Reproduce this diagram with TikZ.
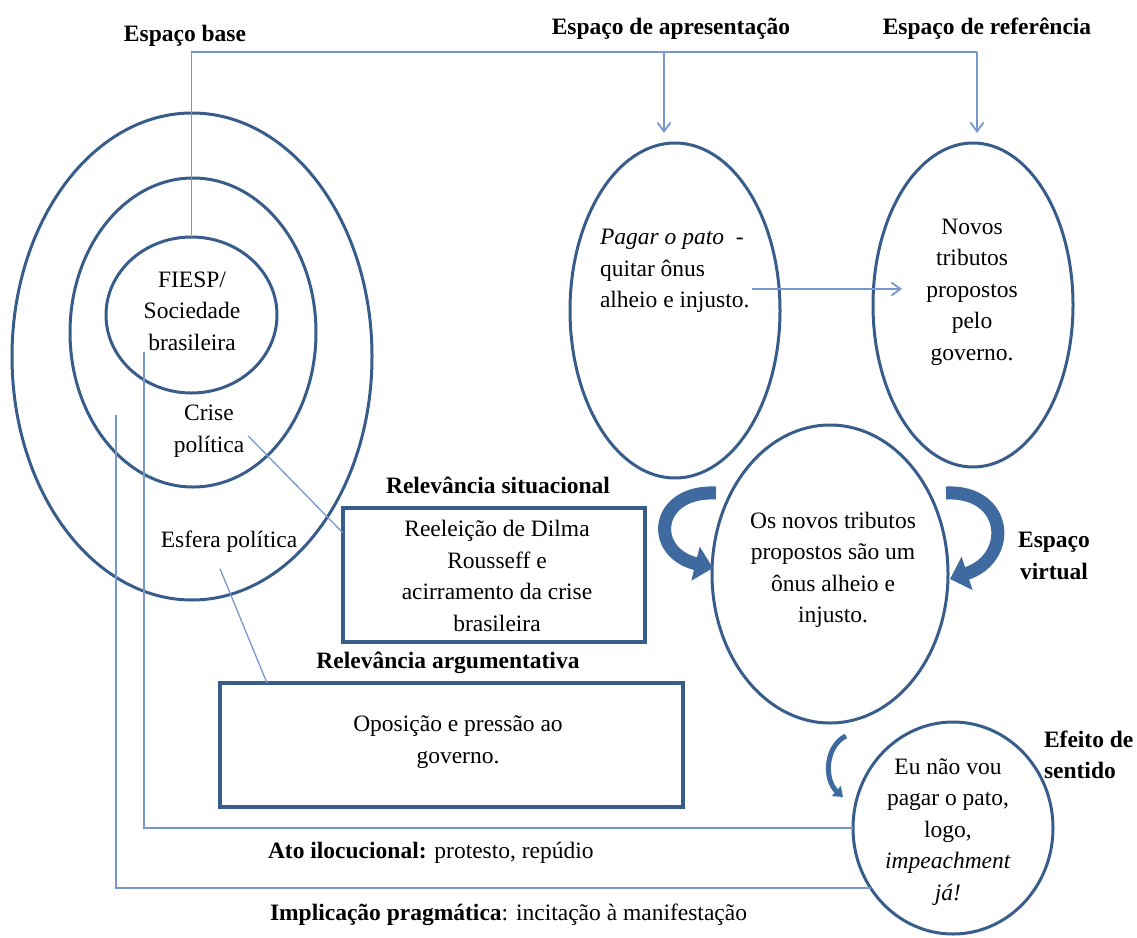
\documentclass[tikz,border=0pt]{standalone}
\usepackage{fontspec}
\setmainfont{Liberation Serif}
\usetikzlibrary{shapes.geometric,arrows.meta,calc}
\definecolor{elc}{RGB}{56,93,138}
\definecolor{cnc}{RGB}{120,152,205}
\definecolor{arc}{RGB}{62,106,160}
\begin{document}
\begin{tikzpicture}[x=1pt,y=-1pt,
  every node/.style={font=\fontsize{23.5}{31.5}\selectfont, inner sep=0pt, outer sep=0pt},
  oval/.style={ellipse, draw=elc, line width=3pt},
  rbox/.style={draw=elc, line width=3.5pt},
  conn/.style={draw=cnc, line width=1.8pt},
  tip/.style={-{Straight Barb[length=9pt,width=13pt]}},
  lbl/.style={font=\fontsize{23.5}{31.5}\selectfont\bfseries},
  txt/.style={align=center},
  bigarrow/.style={draw=arc, line width=13pt, -{Triangle[width=34pt,length=18pt]}},
]
\useasboundingbox (0,0) rectangle (1137,937);

% ellipses
\node[oval, minimum width=360, minimum height=487] (outer) at (192,356.5) {};
\node[oval, minimum width=246, minimum height=309] (middle) at (193,332.5) {};
\node[oval, minimum width=171, minimum height=156] (inner) at (191.5,315) {};
\node[oval, minimum width=210, minimum height=335] (apr) at (675,310.5) {};
\node[oval, minimum width=200, minimum height=324] (ref) at (973,305) {};
\node[oval, minimum width=236, minimum height=298] (virt) at (830,574) {};
\node[oval, minimum width=200, minimum height=212] (eff) at (953,828) {};

% boxes
\node[rbox, minimum width=302, minimum height=134] (sit) at (494,575) {};
\node[rbox, minimum width=463, minimum height=124] (arg) at (451.5,745) {};

% labels
\node[lbl] (lbase) at (185,36) {Espaço base};
\node[lbl] (lapr) at (671,29) {Espaço de apresentação};
\node[lbl] (lref) at (987,29) {Espaço de referência};
\node[lbl, align=center] (lvirt) at (1054,556) {Espaço\\virtual};
\node[lbl, align=left, anchor=west] (leff) at (1044,755) {Efeito de\\sentido};
\node[lbl] (lsit) at (498,485) {Relevância situacional};
\node[lbl] (larg) at (448,663) {Relevância argumentativa};
\node[anchor=west] (lato) at (268,853) {\textbf{Ato ilocucional:} protesto, repúdio};
\node[anchor=west] (limp) at (270,915) {\textbf{Implicação pragmática}: incitação à manifestação};

% texts
\node[txt] (tfiesp) at (192,311) {FIESP/\\Sociedade\\brasileira};
\node[txt] (crise) at (209,431) {Crise\\política};
\node (esfera) at (229,542) {Esfera política};
\node[align=left, anchor=west] (tapr) at (600,271) {\textit{Pagar o pato} \ -\\quitar ônus\\alheio e injusto.};
\node[txt] (tref) at (972,292) {Novos\\tributos\\propostos\\pelo\\governo.};
\node[txt] (tvirt) at (833,570) {Os novos tributos\\propostos são um\\ônus alheio e\\injusto.};
\node[txt] (teff) at (948,832) {Eu não vou\\pagar o pato,\\logo,\\\textit{impeachment}\\\textit{já!}};
\node[txt] (tsit) at (497,576) {Reeleição de Dilma\\Rousseff e\\acirramento da crise\\brasileira};
\node[txt] (targ) at (458,742) {Oposição e pressão ao\\governo.};

% connectors
\coordinate (tA) at (664,52);
\coordinate (tR) at (977,52);
\draw[conn] (inner.north) -- (inner.north |- tA) -- (tR);
\draw[conn,tip,shorten >=10pt] (tA) -- (tA |- apr.north);
\draw[conn,tip,shorten >=10pt] (tR) -- (tR |- ref.north);
\coordinate (h1) at (752,289);
\coordinate (h2) at (902,289);
\draw[conn,tip] (h1) -- (h2);
\coordinate (v1) at (144,352);
\coordinate (v2) at (116,415);
\draw[conn] (v1) |- (eff.west);
\draw[conn] (v2) |- (eff.216);
\draw[conn, line width=1.3pt] ($(crise.east)+(4,5)$) -- ($(sit.north west)+(0,25)$);
\draw[conn, line width=1.3pt] ($(esfera.south)+(-9,16)$) -- ($(arg.north west)+(47,0)$);

% curved arrows
\draw[bigarrow] (716,493) .. controls (655,490) and (648,552) .. (713,568);
\draw[bigarrow] (946,493) .. controls (1008,490) and (1014,558) .. (950,579);
\draw[draw=arc, line width=5pt, -{Triangle[width=13pt,length=9pt]}] (846,736) .. controls (825,746) and (824,780) .. (843,797);
\end{tikzpicture}
\end{document}
